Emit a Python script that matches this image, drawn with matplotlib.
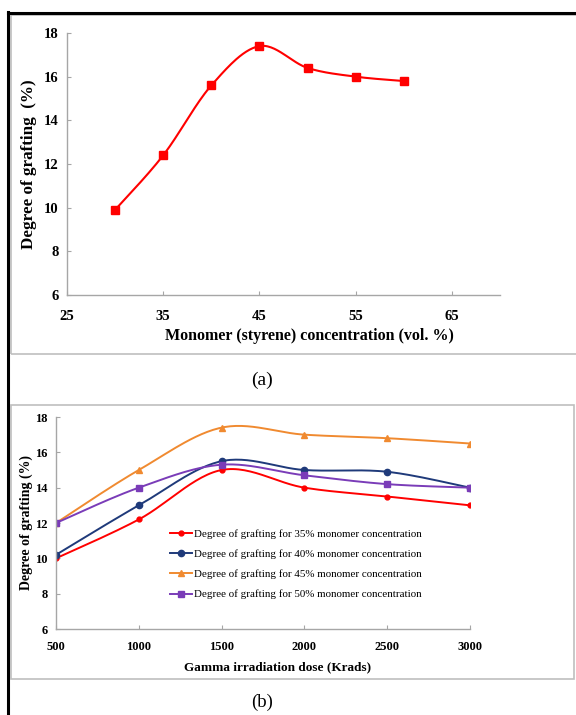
import numpy as np
import matplotlib
matplotlib.use("Agg")
import matplotlib.pyplot as plt
from matplotlib.lines import Line2D
from matplotlib.patches import Rectangle

plt.rcParams['font.family'] = ['Liberation Serif', 'DejaVu Serif']

# (a) grafting vs monomer concentration
conc = [30, 35, 40, 45, 50, 55, 60]
graft_conc = [9.9, 12.4, 15.6, 17.4, 16.4, 16.0, 15.8]

# (b) grafting vs gamma dose, one series per monomer concentration
dose = [500, 1000, 1500, 2000, 2500, 3000]
graft_35 = [10.0, 12.2, 15.0, 14.0, 13.5, 13.0]
graft_40 = [10.2, 13.0, 15.5, 15.0, 14.9, 14.0]
graft_45 = [12.0, 15.0, 17.4, 17.0, 16.8, 16.5]
graft_50 = [12.0, 14.0, 15.3, 14.7, 14.2, 14.0]
series_labels = ['Degree of grafting for 35% monomer concentration',
                 'Degree of grafting for 40% monomer concentration',
                 'Degree of grafting for 45% monomer concentration',
                 'Degree of grafting for 50% monomer concentration']


def smooth(x, y, n=30):
    # spreadsheet-style smoothed line: cubic bezier through each point pair
    x = np.asarray(x, float)
    y = np.asarray(y, float)
    xs, ys = [x[0]], [y[0]]
    t = np.linspace(0, 1, n)[1:]
    for i in range(len(x) - 1):
        p0 = np.array([x[i - 1], y[i - 1]]) if i > 0 else np.array([x[i], y[i]])
        p1 = np.array([x[i], y[i]])
        p2 = np.array([x[i + 1], y[i + 1]])
        p3 = np.array([x[i + 2], y[i + 2]]) if i + 2 < len(x) else p2
        c1 = p1 + (p2 - p0) / 6
        c2 = p2 - (p3 - p1) / 6
        b = ((1 - t) ** 3)[:, None] * p1 + (3 * (1 - t) ** 2 * t)[:, None] * c1 \
            + (3 * (1 - t) * t ** 2)[:, None] * c2 + (t ** 3)[:, None] * p2
        xs.extend(b[:, 0])
        ys.extend(b[:, 1])
    return xs, ys


def style_axes(ax, fs, xpad):
    for s in ['top', 'right']:
        ax.spines[s].set_visible(False)
    for s in ['left', 'bottom']:
        ax.spines[s].set_color('#a6a6a6')
        ax.spines[s].set_linewidth(1.0)
    ax.tick_params(direction='in', length=3, color='#a6a6a6', labelsize=fs, pad=6)
    ax.tick_params(axis='x', pad=xpad)
    for lb in ax.get_xticklabels() + ax.get_yticklabels():
        lb.set_fontweight('bold')


fig = plt.figure(figsize=(5.76, 7.15), dpi=100)

# frames
fig.add_artist(Line2D([8 / 576, 8 / 576], [0, 1 - 12 / 715], color='black', lw=2.2, transform=fig.transFigure))
fig.add_artist(Line2D([8 / 576, 1], [1 - 12.5 / 715, 1 - 12.5 / 715], color='black', lw=2.2, transform=fig.transFigure))
fig.add_artist(Rectangle((11 / 576, 1 - 354 / 715), 0.99, (354 - 15) / 715, fill=False,
                         edgecolor='#bfbfbf', lw=1.2, transform=fig.transFigure))
fig.add_artist(Rectangle((11 / 576, 1 - 679 / 715), (574 - 11) / 576, (679 - 405) / 715, fill=False,
                         edgecolor='#bfbfbf', lw=1.2, transform=fig.transFigure))

# panel (a)
ax1 = fig.add_axes([67 / 576, 1 - 295 / 715, (500 - 67) / 576, (295 - 33) / 715])
sx, sy = smooth(conc, graft_conc)
ax1.plot(sx, sy, color='#ff0000', lw=1.5)
ax1.plot(conc, graft_conc, ls='none', marker='s', ms=5.5, color='#ff0000')
ax1.set_xlim(25, 70)
ax1.set_ylim(6, 18)
ax1.set_xticks([25, 35, 45, 55, 65])
ax1.set_yticks(range(6, 19, 2))
style_axes(ax1, 10.5, 11)
ax1.set_xlabel('Monomer (styrene) concentration (vol. %)', fontsize=11.5, fontweight='bold')
ax1.xaxis.set_label_coords(0.56, -0.125)
ax1.set_ylabel('Degree of grafting  (%)', fontsize=12.3, fontweight='bold')
ax1.yaxis.set_label_coords(-0.07, 0.5)
fig.text(262 / 576, 1 - 380 / 715, '(a)', fontsize=14, ha='center', va='center')

# panel (b)
ax2 = fig.add_axes([56 / 576, 1 - 629 / 715, (470 - 56) / 576, (629 - 417) / 715])
styles = [('#ff0000', 'o', 3.5), ('#1f3a7a', 'o', 4.5), ('#f08a30', '^', 4.5), ('#7a3cb8', 's', 4.5)]
for ys_, (c, m, ms), lab in zip([graft_35, graft_40, graft_45, graft_50], styles, series_labels):
    sx, sy = smooth(dose, ys_)
    ax2.plot(sx, sy, color=c, lw=1.4)
    ax2.plot(dose, ys_, ls='none', marker=m, ms=ms, color=c)
    ax2.plot([], [], color=c, lw=1.4, marker=m, ms=ms, label=lab)
ax2.set_xlim(500, 3000)
ax2.set_ylim(6, 18)
ax2.set_xticks(dose)
ax2.set_yticks(range(6, 19, 2))
style_axes(ax2, 9, 9)
ax2.set_xlabel('Gamma irradiation dose (Krads)', fontsize=9.5, fontweight='bold')
ax2.xaxis.set_label_coords(0.535, -0.15)
ax2.set_ylabel('Degree of grafting (%)', fontsize=10, fontweight='bold')
ax2.yaxis.set_label_coords(-0.055, 0.5)
ax2.legend(loc='center left', bbox_to_anchor=(0.265, 0.305), frameon=False, fontsize=7.9,
           handlelength=2.0, handletextpad=0.15, labelspacing=0.95, borderaxespad=0)
fig.text(262 / 576, 1 - 702 / 715, '(b)', fontsize=13.5, ha='center', va='center')

fig.savefig('out.png', dpi=100)
